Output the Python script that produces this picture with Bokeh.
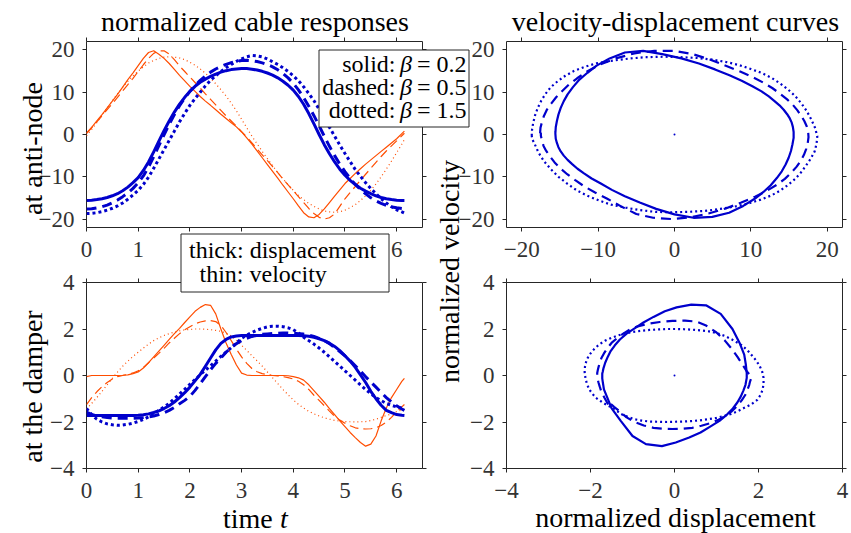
import numpy as np
from bokeh.plotting import figure
from bokeh.models import (Range1d, LinearAxis, FixedTicker, CustomJSTickFormatter,
                          Label, GridBox)
from bokeh.embed import file_html
from bokeh.resources import INLINE

# ---------------- data ----------------
t = [0.0, 0.1, 0.2, 0.3, 0.4, 0.5, 0.6, 0.7, 0.8, 0.9,
     1.0, 1.1, 1.2, 1.3, 1.4, 1.5, 1.6, 1.7, 1.8, 1.9,
     2.0, 2.1, 2.2, 2.3, 2.4, 2.5, 2.6, 2.7, 2.8, 2.9,
     3.0, 3.1, 3.2, 3.3, 3.4, 3.5, 3.6, 3.7, 3.8, 3.9,
     4.0, 4.1, 4.2, 4.3, 4.4, 4.5, 4.6, 4.7, 4.8, 4.9,
     5.0, 5.1, 5.2, 5.3, 5.4, 5.5, 5.6, 5.7, 5.8, 5.9,
     6.0, 6.1, 6.15]

# ---- at the anti-node ----
node_disp_b02 = [-15.6, -15.55, -15.4, -15.2, -14.9, -14.5, -14.0, -13.3, -12.45, -11.4,
                 -10.2, -8.5, -6.5, -4.1, -1.6, 0.9, 3.2, 5.3, 7.2, 8.8,
                 10.2, 11.4, 12.35, 13.1, 13.75, 14.3, 14.75, 15.1, 15.35, 15.5,
                 15.6, 15.6, 15.45, 15.25, 14.95, 14.55, 14.05, 13.4, 12.6, 11.65,
                 10.5, 9.0, 7.15, 4.95, 2.5, 0.0, -2.4, -4.55, -6.5, -8.2,
                 -9.65, -10.85, -11.85, -12.7, -13.4, -14.0, -14.5, -14.9, -15.2, -15.4,
                 -15.55, -15.6, -15.6]
node_vel_b02 = [0.3, 1.7, 3.2, 4.7, 6.3, 7.9, 9.5, 11.2, 13.0, 14.6,
                16.3, 18.0, 19.4, 19.8, 19.0, 18.0, 16.8, 15.4, 14.0, 12.7,
                11.4, 10.2, 9.0, 7.9, 6.9, 5.85, 4.8, 3.8, 2.8, 1.8,
                0.6, -0.8, -2.3, -3.9, -5.5, -7.1, -8.7, -10.3, -12.0, -13.6,
                -15.2, -16.9, -18.5, -19.5, -19.7, -18.9, -17.6, -16.1, -14.6, -13.1,
                -11.6, -10.4, -9.2, -8.1, -7.0, -6.0, -5.0, -4.0, -3.0, -2.0,
                -1.0, 0.2, 0.8]
node_disp_b05 = [-17.6, -17.55, -17.35, -17.1, -16.7, -16.15, -15.5, -14.7, -13.85, -12.75,
                 -11.45, -9.8, -7.7, -5.25, -2.65, -0.1, 2.4, 4.7, 6.8, 8.6,
                 10.2, 11.6, 12.8, 13.85, 14.75, 15.5, 16.1, 16.6, 17.0, 17.3,
                 17.5, 17.55, 17.45, 17.25, 16.95, 16.55, 16.0, 15.3, 14.45, 13.4,
                 12.1, 10.55, 8.75, 6.7, 4.45, 2.05, -0.4, -2.8, -5.0, -7.0,
                 -8.8, -10.4, -11.8, -13.0, -14.05, -14.95, -15.7, -16.3, -16.8, -17.15,
                 -17.35, -17.5, -17.5]
node_vel_b05 = [0.3, 1.6, 3.0, 4.4, 5.9, 7.3, 8.8, 10.3, 11.8, 13.3,
                14.9, 16.5, 18.0, 19.2, 19.8, 19.8, 19.0, 17.7, 16.2, 14.9,
                13.6, 12.3, 11.0, 9.6, 8.3, 7.0, 5.7, 4.4, 3.2, 2.0,
                0.7, -0.6, -2.0, -3.4, -4.8, -6.2, -7.6, -9.0, -10.5, -11.9,
                -13.3, -14.7, -16.1, -17.5, -18.7, -19.6, -20.0, -19.7, -18.8, -17.0,
                -15.2, -13.7, -12.3, -10.8, -9.4, -8.0, -6.6, -5.2, -3.9, -2.7,
                -1.5, -0.3, 0.3]
node_disp_b15 = [-18.7, -18.65, -18.5, -18.25, -17.9, -17.45, -16.9, -16.2, -15.3, -14.3,
                 -13.2, -11.8, -10.1, -8.0, -5.8, -3.6, -1.4, 0.8, 3.0, 5.0,
                 6.9, 8.5, 10.0, 11.5, 12.8, 13.9, 14.9, 15.8, 16.6, 17.3,
                 17.9, 18.4, 18.7, 18.6, 18.35, 17.85, 17.2, 16.55, 15.8, 14.9,
                 13.9, 12.7, 11.3, 9.7, 8.0, 6.0, 3.9, 1.7, -0.4, -2.5,
                 -4.5, -6.4, -8.3, -9.9, -11.4, -12.8, -14.0, -15.2, -16.2, -17.1,
                 -17.8, -18.3, -18.6]
node_vel_b15 = [-0.3, 1.2, 2.8, 4.6, 6.3, 8.0, 9.6, 11.2, 12.6, 13.9,
                15.0, 16.0, 16.9, 17.5, 18.0, 18.3, 18.4, 18.3, 18.1, 17.7,
                17.1, 16.4, 15.5, 14.5, 13.3, 12.0, 10.6, 9.1, 7.4, 5.6,
                3.6, 1.6, -0.4, -2.2, -4.0, -5.7, -7.4, -9.0, -10.5, -11.9,
                -13.2, -14.4, -15.4, -16.3, -17.0, -17.6, -18.1, -18.3, -18.4, -18.3,
                -17.9, -17.3, -16.6, -15.6, -14.5, -13.2, -11.7, -10.0, -8.2, -6.3,
                -4.3, -2.3, -1.2]

# ---- at the damper ----
damp_disp_b02 = [-1.72, -1.72, -1.72, -1.72, -1.72, -1.72, -1.72, -1.72, -1.72, -1.72,
                 -1.71, -1.69, -1.65, -1.59, -1.52, -1.42, -1.3, -1.14, -0.95, -0.74,
                 -0.5, -0.23, 0.05, 0.4, 0.75, 1.1, 1.38, 1.55, 1.66, 1.7,
                 1.72, 1.72, 1.72, 1.72, 1.72, 1.72, 1.72, 1.72, 1.72, 1.72,
                 1.72, 1.72, 1.71, 1.69, 1.64, 1.58, 1.5, 1.39, 1.25, 1.07,
                 0.85, 0.62, 0.35, 0.03, -0.3, -0.68, -1.0, -1.28, -1.5, -1.6,
                 -1.68, -1.71, -1.72]
damp_vel_b02 = [-0.05, 0.0, 0.0, 0.0, 0.0, 0.0, 0.0, 0.01, 0.03, 0.08,
                0.15, 0.32, 0.55, 0.8, 1.05, 1.3, 1.55, 1.8, 2.03, 2.28,
                2.52, 2.76, 2.93, 3.05, 3.02, 2.65, 2.0, 1.4, 0.9, 0.45,
                0.1, 0.02, 0.0, 0.0, 0.0, 0.0, 0.0, 0.0, 0.0, -0.01,
                -0.05, -0.1, -0.2, -0.4, -0.65, -0.9, -1.15, -1.42, -1.68, -1.95,
                -2.2, -2.45, -2.67, -2.88, -3.04, -2.95, -2.6, -1.95, -1.4, -0.95,
                -0.6, -0.25, -0.12]
damp_disp_b05 = [-1.58, -1.67, -1.74, -1.78, -1.81, -1.83, -1.84, -1.84, -1.84, -1.84,
                 -1.83, -1.81, -1.78, -1.74, -1.68, -1.6, -1.5, -1.37, -1.22, -1.07,
                 -0.9, -0.64, -0.35, -0.05, 0.25, 0.52, 0.75, 1.0, 1.2, 1.37,
                 1.5, 1.6, 1.68, 1.73, 1.77, 1.79, 1.81, 1.82, 1.83, 1.83,
                 1.82, 1.8, 1.78, 1.74, 1.68, 1.6, 1.5, 1.37, 1.2, 1.03,
                 0.85, 0.64, 0.42, 0.19, -0.05, -0.28, -0.5, -0.73, -0.95, -1.14,
                 -1.3, -1.44, -1.5]
damp_vel_b05 = [-1.25, -0.95, -0.7, -0.48, -0.3, -0.15, -0.05, 0.0, 0.05, 0.11,
                0.2, 0.35, 0.55, 0.75, 0.95, 1.17, 1.4, 1.6, 1.8, 1.97,
                2.1, 2.22, 2.3, 2.35, 2.36, 2.32, 2.15, 1.85, 1.5, 1.13,
                0.8, 0.52, 0.3, 0.16, 0.08, 0.03, 0.0, -0.02, -0.05, -0.09,
                -0.15, -0.25, -0.4, -0.6, -0.85, -1.07, -1.3, -1.53, -1.75, -1.92,
                -2.05, -2.16, -2.25, -2.29, -2.3, -2.29, -2.25, -2.15, -2.0, -1.8,
                -1.55, -1.35, -1.25]
damp_disp_b15 = [-1.42, -1.68, -1.88, -2.0, -2.08, -2.12, -2.14, -2.13, -2.1, -2.05,
                 -1.98, -1.89, -1.78, -1.65, -1.5, -1.35, -1.2, -1.0, -0.8, -0.59,
                 -0.38, -0.17, 0.03, 0.23, 0.42, 0.62, 0.82, 1.01, 1.2, 1.4,
                 1.6, 1.74, 1.85, 1.95, 2.03, 2.09, 2.12, 2.12, 2.1, 2.05,
                 1.97, 1.83, 1.65, 1.5, 1.35, 1.18, 1.0, 0.8, 0.6, 0.4,
                 0.2, 0.0, -0.2, -0.4, -0.6, -0.78, -0.95, -1.08, -1.2, -1.28,
                 -1.35, -1.4, -1.42]
damp_vel_b15 = [-1.45, -1.2, -0.95, -0.68, -0.4, -0.12, 0.15, 0.4, 0.62, 0.82,
                1.0, 1.18, 1.35, 1.5, 1.62, 1.72, 1.8, 1.87, 1.92, 1.96,
                1.98, 2.0, 2.0, 1.99, 1.97, 1.94, 1.9, 1.82, 1.7, 1.52,
                1.3, 1.08, 0.85, 0.63, 0.4, 0.15, -0.1, -0.35, -0.6, -0.83,
                -1.05, -1.24, -1.4, -1.54, -1.65, -1.74, -1.82, -1.88, -1.93, -1.96,
                -1.98, -1.99, -2.0, -1.99, -1.98, -1.94, -1.88, -1.8, -1.72, -1.65,
                -1.55, -1.48, -1.45]

origin_x = [0.0]
origin_y = [0.0]

time_ticks = [0, 1, 2, 3, 4, 5, 6]
node_ticks = [-20, -10, 0, 10, 20]
damp_ticks = [-4, -2, 0, 2, 4]

beta_names = ["solid:", "dashed:", "dotted:"]
beta_values = ["0.2", "0.5", "1.5"]

# ---------------- styles ----------------
BLUE = "#0000cc"
ORANGE = "#ff4d00"
FONT = "Liberation Serif"
AX = "#262626"
TICKCOL = "#333333"
STYLES = ["solid", "dashed", "dotted"]


def style_axis(ax, size="23px", standoff=4):
    ax.axis_line_color = None
    ax.major_tick_line_color = AX
    ax.major_tick_out = 4
    ax.major_tick_in = 0
    ax.minor_tick_line_color = None
    ax.minor_tick_out = 0
    ax.minor_tick_in = 0
    ax.major_label_text_font = FONT
    ax.major_label_text_font_size = size
    ax.major_label_text_color = TICKCOL
    ax.major_label_standoff = standoff


def panel(w, h, xr, yr, xticks, yticks, borders, x_formatter=None):
    p = figure(width=w, height=h, x_range=Range1d(*xr), y_range=Range1d(*yr),
               output_backend="svg", toolbar_location=None, title=None,
               min_border_left=borders[0], min_border_right=borders[1],
               min_border_top=borders[2], min_border_bottom=borders[3])
    p.xgrid.visible = False
    p.ygrid.visible = False
    p.outline_line_color = AX
    p.outline_line_width = 1
    p.background_fill_color = "white"
    p.border_fill_color = "white"
    p.xaxis.ticker = FixedTicker(ticks=xticks)
    p.yaxis.ticker = FixedTicker(ticks=yticks)
    style_axis(p.xaxis[0], standoff=10)
    style_axis(p.yaxis[0], standoff=8)
    if x_formatter is not None:
        p.xaxis[0].formatter = x_formatter
    top = LinearAxis(ticker=FixedTicker(ticks=xticks),
                     formatter=CustomJSTickFormatter(code="return ''"))
    right = LinearAxis(ticker=FixedTicker(ticks=yticks),
                       formatter=CustomJSTickFormatter(code="return ''"))
    for ax in (top, right):
        style_axis(ax, size="0px", standoff=0)
    p.add_layout(top, "above")
    p.add_layout(right, "right")
    return p


W1, W2 = 430, 421
H1, H2 = 265, 268

tl_fmt = CustomJSTickFormatter(code="return (tick < 1.5 || tick > 5.5) ? tick.toFixed(0) : ''")
tl = panel(W1, H1, (0, 6.5), (-22, 22), time_ticks, node_ticks, (86, 8, 41, 38), tl_fmt)
bl = panel(W1, H2, (0, 6.5), (-4, 4), time_ticks, damp_ticks, (86, 8, 17, 65))
tr = panel(W2, H1, (-22, 22), (-22, 22), node_ticks, node_ticks, (76, 9, 41, 38))
br = panel(W2, H2, (-4, 4), (-4, 4), damp_ticks, damp_ticks, (76, 9, 17, 65))

node_sets = [(node_disp_b02, node_vel_b02), (node_disp_b05, node_vel_b05),
             (node_disp_b15, node_vel_b15)]
damp_sets = [(damp_disp_b02, damp_vel_b02), (damp_disp_b05, damp_vel_b05),
             (damp_disp_b15, damp_vel_b15)]

thin_dash = {"solid": "solid", "dashed": "9 5", "dotted": "1 3"}
thick_dash = {"solid": "solid", "dashed": "10 6", "dotted": "3 3"}
loop_dash = {"solid": "solid", "dashed": "10 6", "dotted": "2 3"}

for fig, sets in ((tl, node_sets), (bl, damp_sets)):
    for name, (d, v) in zip(STYLES, sets):
        fig.line(t, v, line_color=ORANGE, line_width=1.2, line_dash=thin_dash[name],
                 line_join="round")
    for name, (d, v) in zip(STYLES, sets):
        fig.line(t, d, line_color=BLUE, line_width=3, line_dash=thick_dash[name],
                 line_join="round")

for fig, sets in ((tr, node_sets), (br, damp_sets)):
    for name, (d, v) in zip(STYLES, sets):
        xs = list(d) + [d[0]]
        ys = list(v) + [v[0]]
        fig.line(xs, ys, line_color=BLUE, line_width=2.2, line_dash=loop_dash[name],
                 line_join="round")
    fig.scatter(origin_x, origin_y, size=2, color=BLUE, line_width=0)

# ---------------- overlay with boxes and texts ----------------
ov = figure(width=851, height=533, x_range=Range1d(0, 851), y_range=Range1d(533, 0),
            output_backend="svg", toolbar_location=None, title=None, min_border=0,
            x_axis_location=None, y_axis_location=None)
ov.frame_align = False
ov.grid.visible = False
ov.outline_line_color = None
ov.background_fill_color = None
ov.border_fill_color = None


def txt(x, y, s, size=28, align="center", angle=0.0, style="normal", color="black"):
    # (x, y) is the wanted baseline position; the renderer places the
    # alphabetic baseline about 0.29 em lower, so compensate for that
    off = 0.29 * size
    if angle == 0.0:
        y = y - off
    else:
        x = x - off
    ov.add_layout(Label(x=x, y=y, text=s, text_font=FONT, text_font_size=f"{size}px",
                        text_align=align, text_baseline="alphabetic", angle=angle,
                        text_font_style=style, text_color=color))


# titles and axis labels
txt(254.5, 29, "normalized cable responses")
txt(675, 29, "velocity-displacement curves")
txt(40, 148, "at anti-node", angle=np.pi / 2)
txt(40, 386, "at the damper", angle=np.pi / 2)
txt(457, 271, "normalized velocity", angle=np.pi / 2)
txt(675, 525, "normalized displacement")
txt(222.5, 526, "time", align="left")
txt(279.5, 526, "t", align="left", style="italic")

# beta legend box
ov.quad(left=318.5, right=468.5, top=49.5, bottom=126.5, fill_color="white",
        line_color=AX, line_width=1)
for i, (nm, val) in enumerate(zip(beta_names, beta_values)):
    yb = 70 + 23 * i
    txt(395, yb, nm, size=24, align="right")
    txt(399.5, yb, "\u03b2", size=24, align="left", style="italic")
    txt(466, yb, "= " + val, size=24, align="right")

# line-width legend box
ov.quad(left=180.5, right=388.5, top=233.5, bottom=291.5, fill_color="white",
        line_color=AX, line_width=1)
txt(188.5, 256.5, "thick: displacement", size=24, align="left")
txt(199, 280, "thin: velocity", size=24, align="left")

layout = GridBox(children=[(tl, 0, 0), (tr, 0, 1), (bl, 1, 0), (br, 1, 1), (ov, 0, 0, 2, 2)],
                 rows=[f"{H1}px", f"{H2}px"], cols=[f"{W1}px", f"{W2}px"], spacing=0)

open("out.html", "w").write(file_html(layout, INLINE))
